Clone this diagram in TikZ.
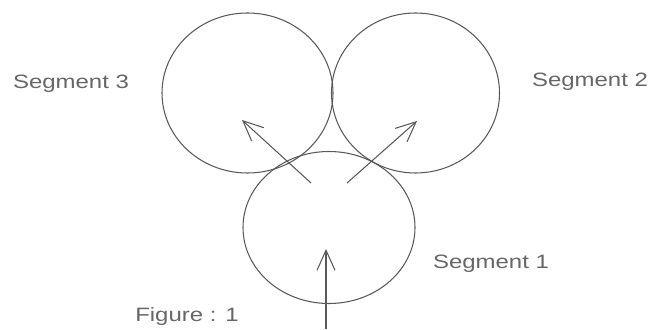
\documentclass[tikz,border=0pt]{standalone}
\usepackage{fontspec}
\setmainfont{Liberation Sans}
\usetikzlibrary{shapes.geometric,arrows.meta}
\begin{document}
\begin{tikzpicture}[
    seg/.style={draw=black!65, line width=0.6pt, ellipse, inner sep=0pt},
    lbl/.style={text=black!60, xscale=1.24,
                font=\fontsize{11}{13}\selectfont},
    arr/.style={draw=black!65, line width=0.6pt,
                -{Straight Barb[length=0.4cm, width=0.36cm]}}]
\useasboundingbox (0,0) rectangle (13.02,6.58);
\begin{scope}
    \node[seg, minimum width=3.44cm, minimum height=3.04cm] (seg1) at (6.58,2.03) {};
    \node[seg, minimum width=3.36cm, minimum height=3.2cm]  (seg2) at (8.31,4.72) {};
    \node[seg, minimum width=3.42cm, minimum height=3.2cm]  (seg3) at (4.95,4.72) {};

    \coordinate (in)    at (6.52,0);
    \coordinate (in1)   at (6.52,1.60);
    \coordinate (out3)  at (6.22,2.92);
    \coordinate (to3)   at (4.84,4.18);
    \coordinate (out2)  at (6.94,2.92);
    \coordinate (to2)   at (8.34,4.16);

    \draw[arr] (in) -- (in1);
    \draw[arr] (out3) -- (to3);
    \draw[arr] (out2) -- (to2);

    \node[lbl] (lab3) at (1.42,4.90) {Segment 3};
    \node[lbl] (lab2) at (11.80,4.94) {Segment 2};
    \node[lbl] (lab1) at (9.82,1.30) {Segment 1};
    \node[lbl] (fig)  at (3.74,0.24) {Figure : 1};
\end{scope}
\end{tikzpicture}
\end{document}
